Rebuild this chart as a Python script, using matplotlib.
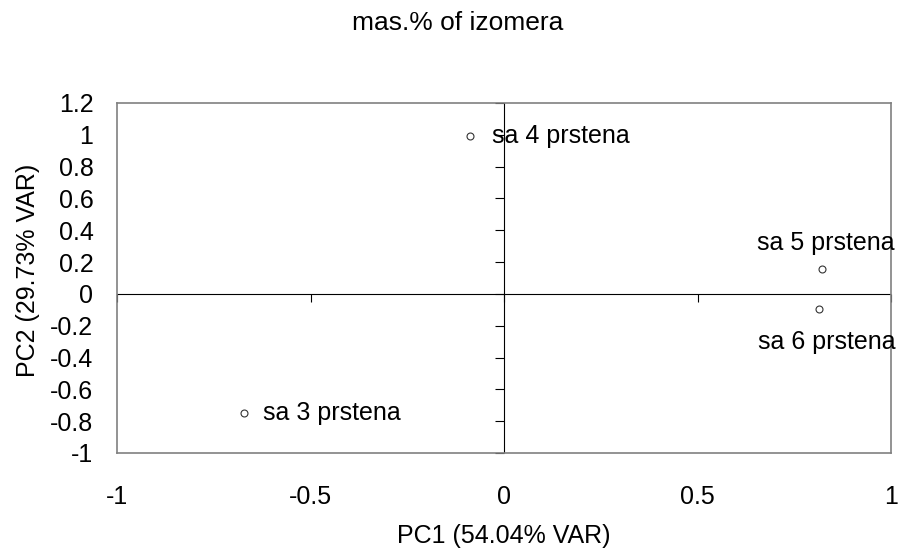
import numpy as np
import matplotlib.pyplot as plt

plt.rcParams['font.family'] = ['Liberation Sans', 'DejaVu Sans']

# PCA scores
names = ['sa 3 prstena', 'sa 4 prstena', 'sa 5 prstena', 'sa 6 prstena']
pc1 = [-0.672, -0.088, 0.822, 0.813]
pc2 = [-0.746, 0.99, 0.157, -0.092]

xticks = [-1, -0.5, 0, 0.5, 1]
yticks = [-1, -0.8, -0.6, -0.4, -0.2, 0, 0.2, 0.4, 0.6, 0.8, 1, 1.2]

# label offsets (points) and alignment per point
offsets = [(14, 0, 'left'), (16, 0, 'left'), (3, 19, 'center'), (6, -24, 'center')]

fig = plt.figure(figsize=(9.06, 5.5), dpi=100)
ax = fig.add_axes([117/906, 1-453/550, 774/906, 350/550])

ax.set_xlim(-1, 1)
ax.set_ylim(-1, 1.2)

# zero lines with tick marks on them
ax.axhline(0, color='black', lw=0.8, zorder=1)
ax.axvline(0, color='black', lw=0.8, zorder=1)
ax.plot(np.zeros(len(yticks)), yticks, ls='none', marker=0, ms=6.5,
        mew=0.8, color='black', clip_on=False)
ax.plot(xticks, np.zeros(len(xticks)), ls='none', marker=3, ms=6,
        mew=0.8, color='black', clip_on=False)

ax.plot(pc1, pc2, ls='none', marker='o', ms=5, mfc='white', mec='#333333',
        mew=0.8, zorder=3)

for x, y, n, (dx, dy, ha) in zip(pc1, pc2, names, offsets):
    ax.annotate(n, (x, y), xytext=(dx, dy), textcoords='offset points',
                ha=ha, va='center', fontsize=18, annotation_clip=False)

ax.set_xticks(xticks)
ax.set_xticklabels(['-1', '-0.5', '0', '0.5', '1'])
ax.set_yticks(yticks)
ax.set_yticklabels(['-1', '-0.8', '-0.6', '-0.4', '-0.2', '0', '0.2', '0.4',
                    '0.6', '0.8', '1', '1.2'])
ax.tick_params(axis='x', length=0, pad=23, labelsize=18)
ax.tick_params(axis='y', length=0, pad=17, labelsize=18)

for s in ax.spines.values():
    s.set_color('#808080')
    s.set_linewidth(1.2)

ax.set_xlabel('PC1 (54.04% VAR)', fontsize=18)
ax.xaxis.set_label_coords(0.5, -0.203)
ax.set_ylabel('PC2 (29.73% VAR)', fontsize=18)
ax.yaxis.set_label_coords(-0.10, 0.523)

fig.text(0.505, 1-23/550, 'mas.% of izomera', ha='center', va='center',
         fontsize=19)

plt.savefig('out.png', dpi=100)
